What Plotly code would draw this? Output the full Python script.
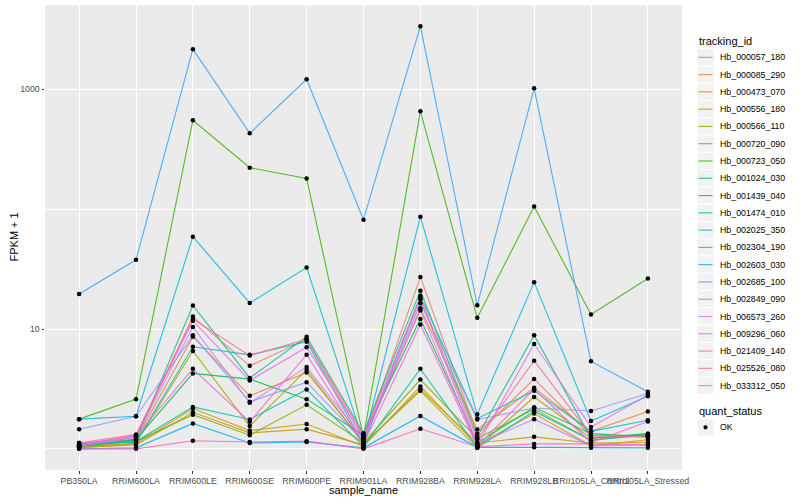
import numpy as np
import plotly.graph_objects as go

samples = ["PB350LA", "RRIM600LA", "RRIM600LE", "RRIM600SE", "RRIM600PE", "RRIM901LA",
           "RRIM928BA", "RRIM928LA", "RRIM928LB", "RRII105LA_Control", "RRII105LA_Stressed"]

tracking_ids = ["Hb_000057_180", "Hb_000085_290", "Hb_000473_070", "Hb_000556_180", "Hb_000566_110",
                "Hb_000720_090", "Hb_000723_050", "Hb_001024_030", "Hb_001439_040", "Hb_001474_010",
                "Hb_002025_350", "Hb_002304_190", "Hb_002603_030", "Hb_002685_100", "Hb_002849_090",
                "Hb_006573_260", "Hb_009296_060", "Hb_021409_140", "Hb_025526_080", "Hb_033312_050"]

# FPKM + 1 per sample, one list per tracking id
hb_000057_180 = [1.08, 1.25, 12.7, 4.93, 8.2, 1.20, 27.1, 1.33, 3.82, 1.29, 1.26]
hb_000085_290 = [1.12, 1.20, 8.62, 2.77, 4.34, 1.15, 14.9, 1.45, 3.23, 1.40, 2.05]
hb_000473_070 = [1.05, 1.10, 2.17, 1.42, 1.61, 1.05, 3.32, 1.07, 1.97, 1.06, 1.19]
hb_000556_180 = [1.03, 1.08, 2.02, 1.36, 1.46, 1.08, 3.15, 1.12, 1.26, 1.12, 1.13]
hb_000566_110 = [1.02, 1.12, 6.55, 1.55, 4.57, 1.10, 3.05, 1.02, 2.71, 1.23, 1.30]
hb_000720_090 = [1.06, 1.15, 1.93, 1.30, 2.33, 1.12, 3.79, 1.22, 2.15, 1.18, 1.34]
hb_000723_050 = [1.77, 2.60, 551, 222, 180, 1.25, 655, 12.4, 105, 13.2, 26.4]
hb_001024_030 = [1.04, 1.20, 4.26, 3.82, 2.60, 1.30, 12.1, 1.12, 2.22, 1.34, 1.26]
hb_001439_040 = [1.07, 1.18, 15.7, 3.91, 8.62, 1.35, 20.9, 1.27, 8.86, 1.23, 1.34]
hb_001474_010 = [1.09, 1.15, 2.24, 1.76, 3.13, 1.05, 4.65, 1.02, 2.06, 1.18, 1.30]
hb_002025_350 = [1.12, 1.14, 7.11, 6.09, 7.83, 1.10, 18.9, 1.79, 3.05, 1.40, 1.73]
hb_002304_190 = [1.77, 1.87, 58.9, 16.5, 32.6, 1.15, 86.5, 1.94, 24.6, 1.71, 2.75]
hb_002603_030 = [1.00, 1.02, 1.63, 1.12, 1.14, 1.02, 1.88, 1.03, 1.03, 1.02, 1.02]
hb_002685_100 = [19.6, 37.8, 2163, 429, 1213, 81.7, 3365, 15.8, 1019, 5.37, 3.0]
hb_002849_090 = [1.46, 1.87, 8.86, 2.47, 3.60, 1.15, 16.4, 1.76, 2.19, 2.07, 2.9]
hb_006573_260 = [1.05, 1.25, 10.4, 2.42, 4.81, 1.20, 17.7, 1.10, 1.77, 1.06, 1.08]
hb_009296_060 = [1.07, 1.30, 11.7, 3.72, 7.03, 1.25, 14.3, 1.07, 7.49, 1.52, 2.82]
hb_021409_140 = [1.10, 1.28, 4.65, 1.68, 6.10, 1.10, 10.9, 1.05, 3.15, 1.13, 1.69]
hb_025526_080 = [1.00, 1.00, 1.17, 1.14, 1.16, 1.00, 1.47, 1.04, 1.10, 1.10, 1.08]
hb_033312_050 = [1.12, 1.32, 12.1, 6.00, 8.20, 1.30, 18.3, 1.20, 5.43, 1.29, 1.26]

series_values = [hb_000057_180, hb_000085_290, hb_000473_070, hb_000556_180, hb_000566_110,
                 hb_000720_090, hb_000723_050, hb_001024_030, hb_001439_040, hb_001474_010,
                 hb_002025_350, hb_002304_190, hb_002603_030, hb_002685_100, hb_002849_090,
                 hb_006573_260, hb_009296_060, hb_021409_140, hb_025526_080, hb_033312_050]

colors = ["#F8766D", "#EA8331", "#D89000", "#C09B00", "#A3A500", "#7CAE00", "#39B600", "#00BB4E",
          "#00BF7D", "#00C1A3", "#00BFC4", "#00BAE0", "#00B0F6", "#35A2FF", "#9590FF", "#C77CFF",
          "#E76BF3", "#FA62DB", "#FF62BC", "#FF6C91"]

quant_status = ["OK"]
y_tick_vals = [10, 1000]
y_minor_vals = [1, 100]

FONT = "Liberation Sans, Arial, sans-serif"
W, H = 800, 500
ML, MR, MT, MB = 45, 118, 5, 30
PW, PH = W - ML - MR, H - MT - MB


def px(x):
    return (x - ML) / PW


def py(y):
    return (H - MB - y) / PH


fig = go.Figure()
for name, vals, col in zip(tracking_ids, series_values, colors):
    fig.add_trace(go.Scatter(x=samples, y=vals, mode="lines", name=name,
                             line=dict(color=col, width=1.1), opacity=0.85,
                             showlegend=False))

all_x = [s for _ in series_values for s in samples]
all_y = [v for vals in series_values for v in vals]
fig.add_trace(go.Scatter(x=all_x, y=all_y, mode="markers", name=quant_status[0],
                         marker=dict(color="black", size=4.5), showlegend=False))

lo = np.log10(min(all_y))
hi = np.log10(max(all_y))
pad = 0.05 * (hi - lo)

shapes = []
annotations = []

# manual ggplot-style legends
key_x0, key_x1, text_x = 697, 714, 718
key_h = 17.28
annotations.append(dict(text="tracking_id", x=px(697), y=py(41), xref="paper", yref="paper",
                        xanchor="left", yanchor="middle", showarrow=False,
                        font=dict(size=11, color="black", family=FONT)))
first_c = 57.3
for i, (name, col) in enumerate(zip(tracking_ids, colors)):
    c = first_c + i * key_h
    shapes.append(dict(type="rect", xref="paper", yref="paper",
                       x0=px(key_x0), x1=px(key_x1), y0=py(c - key_h / 2), y1=py(c + key_h / 2),
                       fillcolor="#F2F2F2", line=dict(color="white", width=1), layer="above"))
    shapes.append(dict(type="line", xref="paper", yref="paper",
                       x0=px(key_x0 + 1.5), x1=px(key_x1 - 1.5), y0=py(c), y1=py(c),
                       line=dict(color=col, width=1.1), opacity=0.85, layer="above"))
    annotations.append(dict(text=name, x=px(text_x), y=py(c), xref="paper", yref="paper",
                            xanchor="left", yanchor="middle", showarrow=False,
                            font=dict(size=8.8, color="black", family=FONT)))

t2 = 411
annotations.append(dict(text="quant_status", x=px(697), y=py(t2), xref="paper", yref="paper",
                        xanchor="left", yanchor="middle", showarrow=False,
                        font=dict(size=11, color="black", family=FONT)))
c2 = t2 + 16.3
shapes.append(dict(type="rect", xref="paper", yref="paper",
                   x0=px(key_x0), x1=px(key_x1), y0=py(c2 - key_h / 2), y1=py(c2 + key_h / 2),
                   fillcolor="#F2F2F2", line=dict(color="white", width=1), layer="above"))
shapes.append(dict(type="circle", xref="paper", yref="paper",
                   x0=px(705.5 - 2.1), x1=px(705.5 + 2.1), y0=py(c2 - 2.1), y1=py(c2 + 2.1),
                   fillcolor="black", line=dict(color="black", width=0), layer="above"))
annotations.append(dict(text=quant_status[0], x=px(text_x), y=py(c2), xref="paper", yref="paper",
                        xanchor="left", yanchor="middle", showarrow=False,
                        font=dict(size=8.8, color="black", family=FONT)))

# axis titles
annotations.append(dict(text="sample_name", x=0.5, y=py(490), xref="paper", yref="paper",
                        xanchor="center", yanchor="middle", showarrow=False,
                        font=dict(size=11, color="black", family=FONT)))
annotations.append(dict(text="FPKM + 1", x=px(13), y=0.5, xref="paper", yref="paper",
                        xanchor="center", yanchor="middle", showarrow=False, textangle=-90,
                        font=dict(size=11, color="black", family=FONT)))

fig.update_layout(
    width=W, height=H,
    margin=dict(l=ML, r=MR, t=MT, b=MB),
    paper_bgcolor="white", plot_bgcolor="#EBEBEB",
    font=dict(family=FONT, size=9, color="#000000"),
    showlegend=False,
    xaxis=dict(type="category", categoryorder="array", categoryarray=samples,
               range=[-0.6, len(samples) - 0.4], automargin=False, tickangle=0,
               showgrid=True, gridcolor="white", gridwidth=1.1, zeroline=False,
               ticks="outside", ticklen=2.5, tickcolor="#333333",
               tickfont=dict(size=8.8, color="#4D4D4D", family=FONT)),
    yaxis=dict(type="log", range=[lo - pad, hi + pad], automargin=False,
               tickvals=y_tick_vals, ticktext=[str(v) for v in y_tick_vals],
               showgrid=True, gridcolor="white", gridwidth=1.1, zeroline=False,
               ticks="outside", ticklen=2.5, tickcolor="#333333",
               tickfont=dict(size=8.8, color="#4D4D4D", family=FONT),
               minor=dict(tickvals=y_minor_vals, showgrid=True, gridcolor="white",
                          gridwidth=0.5, ticks="")),
    shapes=shapes,
    annotations=annotations,
)

fig.write_html("out.html", config={"displayModeBar": False},
               post_script="document.body.style.margin='0px';")
